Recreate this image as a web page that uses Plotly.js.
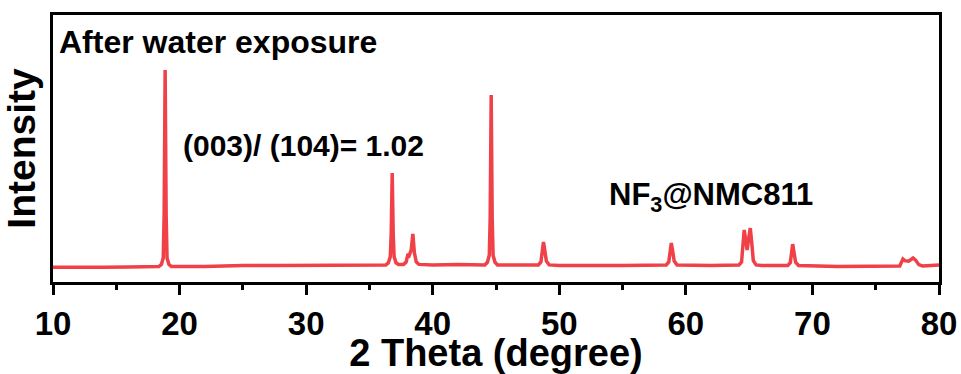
<!DOCTYPE html>
<html>
<head>
<meta charset="utf-8">
<script src="https://cdn.plot.ly/plotly-3.0.1.min.js"></script>
<style>html,body{margin:0;padding:0;background:#fff;}#chart{width:961px;height:374px;}</style>
</head>
<body>
<div id="chart"></div>
<script>
// 2 Theta (degree) values of the XRD profile
const twoTheta = [
  10, 12, 14, 16, 18.36, 18.56, 18.71, 18.78, 18.86, 18.94, 19.01, 19.16, 19.36,
  22, 25, 28, 30, 33, 35, 36.3, 36.5, 36.65, 36.72, 36.8, 36.88, 36.95, 37.1, 37.3,
  37.7, 37.9, 38.05, 38.15, 38.3, 38.43, 38.55, 38.7, 38.9,
  40, 42, 44.12, 44.32, 44.47, 44.54, 44.62, 44.70, 44.77, 44.92, 45.12,
  46, 48.35, 48.55, 48.68, 48.75, 48.85, 48.98, 49.2,
  50, 55, 58.45, 58.65, 58.78, 58.85, 58.95, 59.08, 59.3,
  62, 64.2, 64.4, 64.53, 64.61, 64.72, 64.84, 64.97, 65.09, 65.2, 65.33, 65.55,
  66, 68.05, 68.25, 68.37, 68.44, 68.54, 68.67, 68.9,
  72, 76.9, 77.05, 77.15, 77.3, 77.6, 77.95, 78.15, 78.4, 78.7, 80];
// Intensity (a.u.)
const intensity = [
  55, 54, 55, 56, 58, 66, 90, 250, 794, 250, 90, 66, 58,
  58, 62, 62, 63, 62, 64, 64, 72, 95, 180, 408, 180, 95, 72, 66,
  66, 75, 105, 100, 120, 180, 110, 75, 66,
  64, 66, 64, 74, 100, 240, 700, 240, 100, 74, 64,
  64, 64, 75, 120, 150, 120, 78, 64,
  62, 62, 64, 75, 118, 146, 118, 78, 64,
  62, 64, 75, 150, 195, 160, 120, 165, 202, 150, 80, 64,
  62, 62, 72, 115, 142, 112, 74, 62,
  58, 60, 75, 86, 80, 78, 90, 82, 65, 60, 64];

const xTickVals = [10, 20, 30, 40, 50, 60, 70, 80];
const xTickText = ['10', '20', '30', '40', '50', '60', '70', '80'];

const labelSample = 'After water exposure';
const labelRatio = '(003)/ (104)= 1.02';
const labelMaterial = 'NF<sub>3</sub>@NMC811';

const FONT = 'Liberation Sans, Arial, sans-serif';

const trace = {
  x: twoTheta, y: intensity, type: 'scatter', mode: 'lines',
  line: {color: '#EF4147', width: 3.5}, hoverinfo: 'skip'
};

const layout = {
  width: 961, height: 374,
  margin: {l: 53, r: 22, t: 15, b: 92},
  paper_bgcolor: '#fff', plot_bgcolor: '#fff',
  showlegend: false,
  font: {family: FONT, color: '#000'},
  xaxis: {
    range: [10, 80], showgrid: false, zeroline: false,
    showline: true, mirror: true, linecolor: '#000', linewidth: 3,
    ticks: 'outside', ticklen: 10, tickwidth: 3, tickcolor: '#000',
    tickvals: xTickVals, ticktext: xTickText,
    tickfont: {family: FONT, size: 33, color: '#000', weight: 'bold'},
    minor: {dtick: 5, tick0: 5, ticks: 'outside', ticklen: 5, tickwidth: 3, tickcolor: '#000', showgrid: false},
    title: {text: '2 Theta (degree)', font: {family: FONT, size: 38, color: '#000', weight: 'bold'}, standoff: 0}
  },
  yaxis: {
    range: [0, 1000], showgrid: false, zeroline: false,
    showline: true, mirror: true, linecolor: '#000', linewidth: 3,
    ticks: '', showticklabels: false,
    title: {text: 'Intensity', font: {family: FONT, size: 39, color: '#000', weight: 'bold'}, standoff: 4}
  },
  annotations: [
    {text: labelSample, xref: 'paper', yref: 'paper', x: 0.004, y: 0.9, xanchor: 'left', yanchor: 'middle',
     showarrow: false, font: {family: FONT, size: 32, color: '#000', weight: 'bold'}},
    {text: labelRatio, xref: 'paper', yref: 'paper', x: 0.144, y: 0.51, xanchor: 'left', yanchor: 'middle',
     showarrow: false, font: {family: FONT, size: 30, color: '#000', weight: 'bold'}},
    {text: labelMaterial, xref: 'paper', yref: 'paper', x: 0.625, y: 0.32, xanchor: 'left', yanchor: 'middle',
     showarrow: false, font: {family: FONT, size: 31, color: '#000', weight: 'bold'}}
  ]
};

Plotly.newPlot('chart', [trace], layout, {displayModeBar: false, staticPlot: true});
</script>
</body>
</html>
